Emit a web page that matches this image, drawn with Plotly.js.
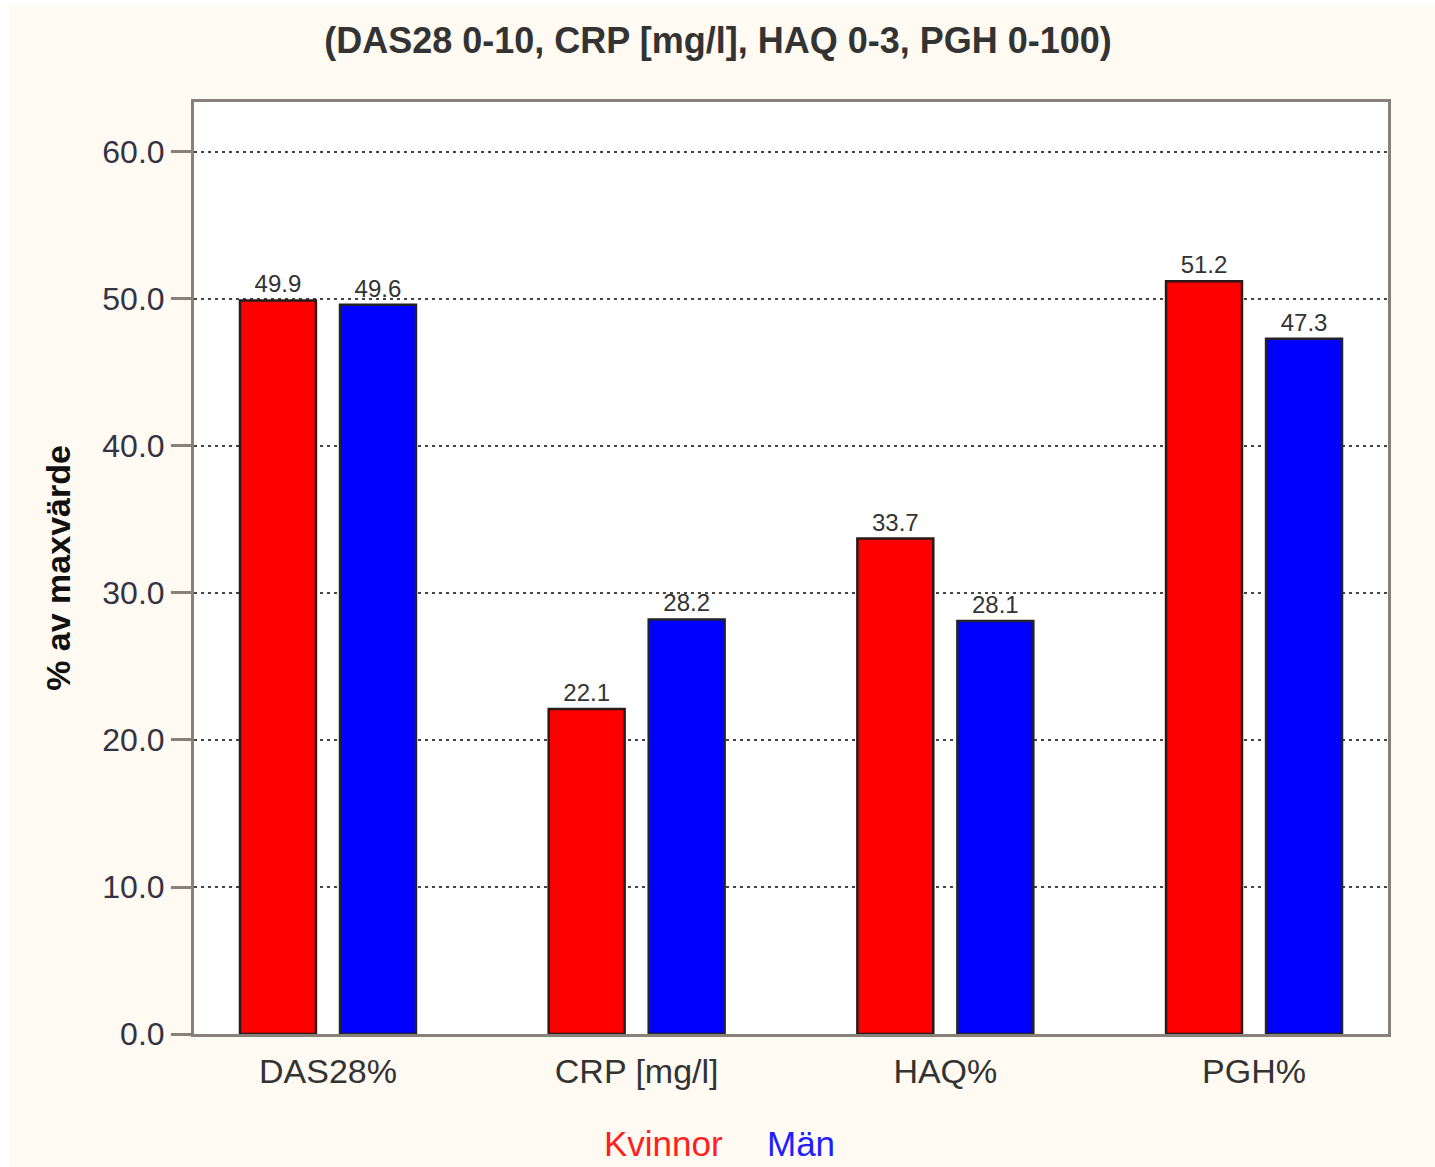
<!DOCTYPE html>
<html>
<head>
<meta charset="utf-8">
<script src="https://cdn.plot.ly/plotly-3.0.1.min.js"></script>
<style>
  html, body { margin: 0; padding: 0; background: #ffffff; width: 1435px; height: 1167px; overflow: hidden; }
  #chart { position: absolute; left: 9px; top: 5px; width: 1426px; height: 1162px; }
</style>
</head>
<body>
<div id="chart"></div>
<script>
const categories = ["DAS28%", "CRP [mg/l]", "HAQ%", "PGH%"];
const kvinnor = [49.9, 22.1, 33.7, 51.2];
const man = [49.6, 28.2, 28.1, 47.3];
const yTickVals = [0, 10, 20, 30, 40, 50, 60];
const yTickText = ["0.0", "10.0", "20.0", "30.0", "40.0", "50.0", "60.0"];
const titleText = "(DAS28 0-10, CRP [mg/l], HAQ 0-3, PGH 0-100)";
const yTitle = "% av maxvärde";
const seriesNames = ["Kvinnor", "Män"];

const FONT = "Liberation Sans, Arial, sans-serif";

const traces = [
  {
    type: "bar", name: seriesNames[0], x: categories, y: kvinnor,
    offset: -0.285, width: 0.246,
    marker: { color: "#ff0000", line: { color: "#2a1a1a", width: 2.5 } },
    text: kvinnor.map(v => v.toFixed(1)), textposition: "outside",
    textfont: { family: FONT, size: 24, color: "#333333" },
    cliponaxis: false, hoverinfo: "x+y"
  },
  {
    type: "bar", name: seriesNames[1], x: categories, y: man,
    offset: 0.039, width: 0.246,
    marker: { color: "#0000ff", line: { color: "#22222a", width: 2.5 } },
    text: man.map(v => v.toFixed(1)), textposition: "outside",
    textfont: { family: FONT, size: 24, color: "#333333" },
    cliponaxis: false, hoverinfo: "x+y"
  }
];

const layout = {
  width: 1426, height: 1162,
  paper_bgcolor: "#fffbf3", plot_bgcolor: "#ffffff",
  margin: { l: 185, r: 47, t: 97, b: 133 },
  showlegend: false,
  font: { family: FONT, color: "#333333" },
  title: {
    text: "<b>" + titleText + "</b>",
    font: { family: FONT, size: 36, color: "#333333" },
    x: (718 - 9) / 1426, xref: "container", xanchor: "center",
    y: 1 - 35 / 1162, yref: "container", yanchor: "middle"
  },
  xaxis: {
    type: "category", range: [-0.434, 3.434],
    showline: true, mirror: true, linecolor: "#87817a", linewidth: 3,
    ticks: "", showgrid: false,
    tickfont: { family: FONT, size: 34, color: "#333333" },
    ticklabelstandoff: 5
  },
  yaxis: {
    range: [0, 63.4], tickmode: "array", tickvals: yTickVals, ticktext: yTickText,
    showline: true, mirror: true, linecolor: "#87817a", linewidth: 3,
    ticks: "outside", ticklen: 20, tickwidth: 3, tickcolor: "#87817a",
    tickfont: { family: FONT, size: 32, color: "#333344" },
    showgrid: true, gridcolor: "#444444", gridwidth: 2, griddash: "3px,4px",
    zeroline: false,
    title: { text: "<b>" + yTitle + "</b>", font: { family: FONT, size: 34, color: "#111111" }, standoff: 22 }
  },
  annotations: [
    { text: seriesNames[0], xref: "paper", yref: "paper", x: (663.5 - 194) / 1194, y: -(1143 - 1034) / 932,
      xanchor: "center", yanchor: "middle", showarrow: false,
      font: { family: FONT, size: 35, color: "#ff2020" } },
    { text: seriesNames[1], xref: "paper", yref: "paper", x: (800.5 - 194) / 1194, y: -(1143 - 1034) / 932,
      xanchor: "center", yanchor: "middle", showarrow: false,
      font: { family: FONT, size: 35, color: "#2020ff" } }
  ]
};

Plotly.newPlot("chart", traces, layout, { displayModeBar: false, staticPlot: true });
</script>
</body>
</html>
